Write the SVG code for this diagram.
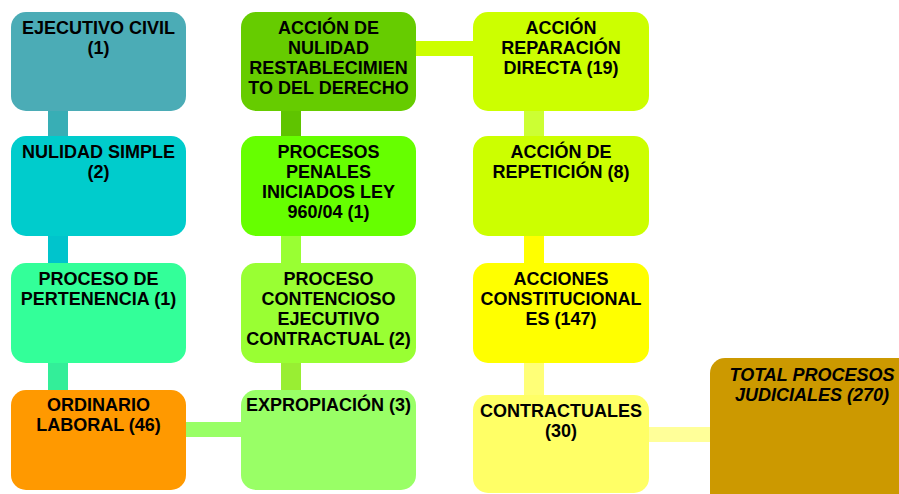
<svg xmlns="http://www.w3.org/2000/svg" width="899" height="494" viewBox="0 0 899 494">
<style>
.box{stroke:none}
text{font-family:"Liberation Sans",Arial,sans-serif;font-weight:bold;font-size:18px;fill:#000;text-anchor:middle}
.it{font-style:italic}
</style>
<rect width="899" height="494" fill="#fff"/>
<g id="connectors">
<rect x="48" y="110" width="20" height="27" fill="#38aeb5"/>
<rect x="48" y="235" width="20" height="29" fill="#00c4cc"/>
<rect x="48" y="362" width="20" height="29" fill="#33ee99"/>
<rect x="281" y="110" width="20" height="27" fill="#5fc400"/>
<rect x="281" y="235" width="20" height="29" fill="#99ff33"/>
<rect x="281" y="362" width="20" height="29" fill="#99ee33"/>
<rect x="524" y="110" width="20" height="27" fill="#ccff33"/>
<rect x="524" y="235" width="20" height="29" fill="#ffff00"/>
<rect x="524" y="362" width="20" height="34" fill="#ffff77"/>
<rect x="415" y="41" width="59" height="15" fill="#ccff00"/>
<rect x="185" y="422" width="57" height="15" fill="#99ff66"/>
<rect x="648" y="427" width="63" height="15" fill="#ffff99"/>
</g>
<g id="ejecutivo-civil"><rect class="box" x="11" y="12" width="175" height="99" rx="15" fill="#4bacb6"/>
<text x="98.5" y="33.5">EJECUTIVO CIVIL</text><text x="98.5" y="53.5">(1)</text></g>
<g id="nulidad-simple"><rect class="box" x="11" y="136" width="175" height="100" rx="15" fill="#00cccc"/>
<text x="98.5" y="157.5">NULIDAD SIMPLE</text><text x="98.5" y="177.5">(2)</text></g>
<g id="proceso-pertenencia"><rect class="box" x="11" y="263" width="175" height="100" rx="15" fill="#33ff99"/>
<text x="98.5" y="284.5">PROCESO DE</text><text x="98.5" y="304.5">PERTENENCIA (1)</text></g>
<g id="ordinario-laboral"><rect class="box" x="11" y="390" width="175" height="100" rx="15" fill="#ff9900"/>
<text x="98.5" y="411">ORDINARIO</text><text x="98.5" y="431">LABORAL (46)</text></g>
<g id="accion-nulidad"><rect class="box" x="241" y="12" width="175" height="99" rx="15" fill="#66cc00"/>
<text x="328.5" y="33.5">ACCIÓN DE</text><text x="328.5" y="53.5">NULIDAD</text><text x="328.5" y="73.5">RESTABLECIMIEN</text><text x="328.5" y="93.5">TO DEL DERECHO</text></g>
<g id="procesos-penales"><rect class="box" x="241" y="136" width="175" height="100" rx="15" fill="#66ff00"/>
<text x="328.5" y="157.5">PROCESOS</text><text x="328.5" y="177.5">PENALES</text><text x="328.5" y="197.5">INICIADOS LEY</text><text x="328.5" y="217.5">960/04 (1)</text></g>
<g id="contencioso-ejecutivo"><rect class="box" x="241" y="263" width="175" height="100" rx="15" fill="#99ff33"/>
<text x="328.5" y="284.5">PROCESO</text><text x="328.5" y="304.5">CONTENCIOSO</text><text x="328.5" y="324.5">EJECUTIVO</text><text x="328.5" y="344.5">CONTRACTUAL (2)</text></g>
<g id="expropiacion"><rect class="box" x="241" y="390" width="175" height="100" rx="15" fill="#99ff66"/>
<text x="328.5" y="411">EXPROPIACIÓN (3)</text></g>
<g id="reparacion-directa"><rect class="box" x="473" y="12" width="176" height="99" rx="15" fill="#ccff00"/>
<text x="561" y="33.5">ACCIÓN</text><text x="561" y="53.5">REPARACIÓN</text><text x="561" y="73.5">DIRECTA (19)</text></g>
<g id="accion-repeticion"><rect class="box" x="473" y="136" width="176" height="100" rx="15" fill="#ccff00"/>
<text x="561" y="157.5">ACCIÓN DE</text><text x="561" y="177.5">REPETICIÓN (8)</text></g>
<g id="acciones-constitucionales"><rect class="box" x="473" y="263" width="176" height="100" rx="15" fill="#ffff00"/>
<text x="561" y="284.5">ACCIONES</text><text x="561" y="304.5">CONSTITUCIONAL</text><text x="561" y="324.5">ES (147)</text></g>
<g id="contractuales"><rect class="box" x="473" y="395" width="176" height="98" rx="15" fill="#ffff66"/>
<text x="561" y="416.5">CONTRACTUALES</text><text x="561" y="436.5">(30)</text></g>
<g id="total"><rect class="box" x="710" y="358" width="205" height="150" rx="15" fill="#cc9900"/>
<text class="it" x="812" y="380.5">TOTAL PROCESOS</text><text class="it" x="812" y="400.5">JUDICIALES (270)</text></g>
</svg>
